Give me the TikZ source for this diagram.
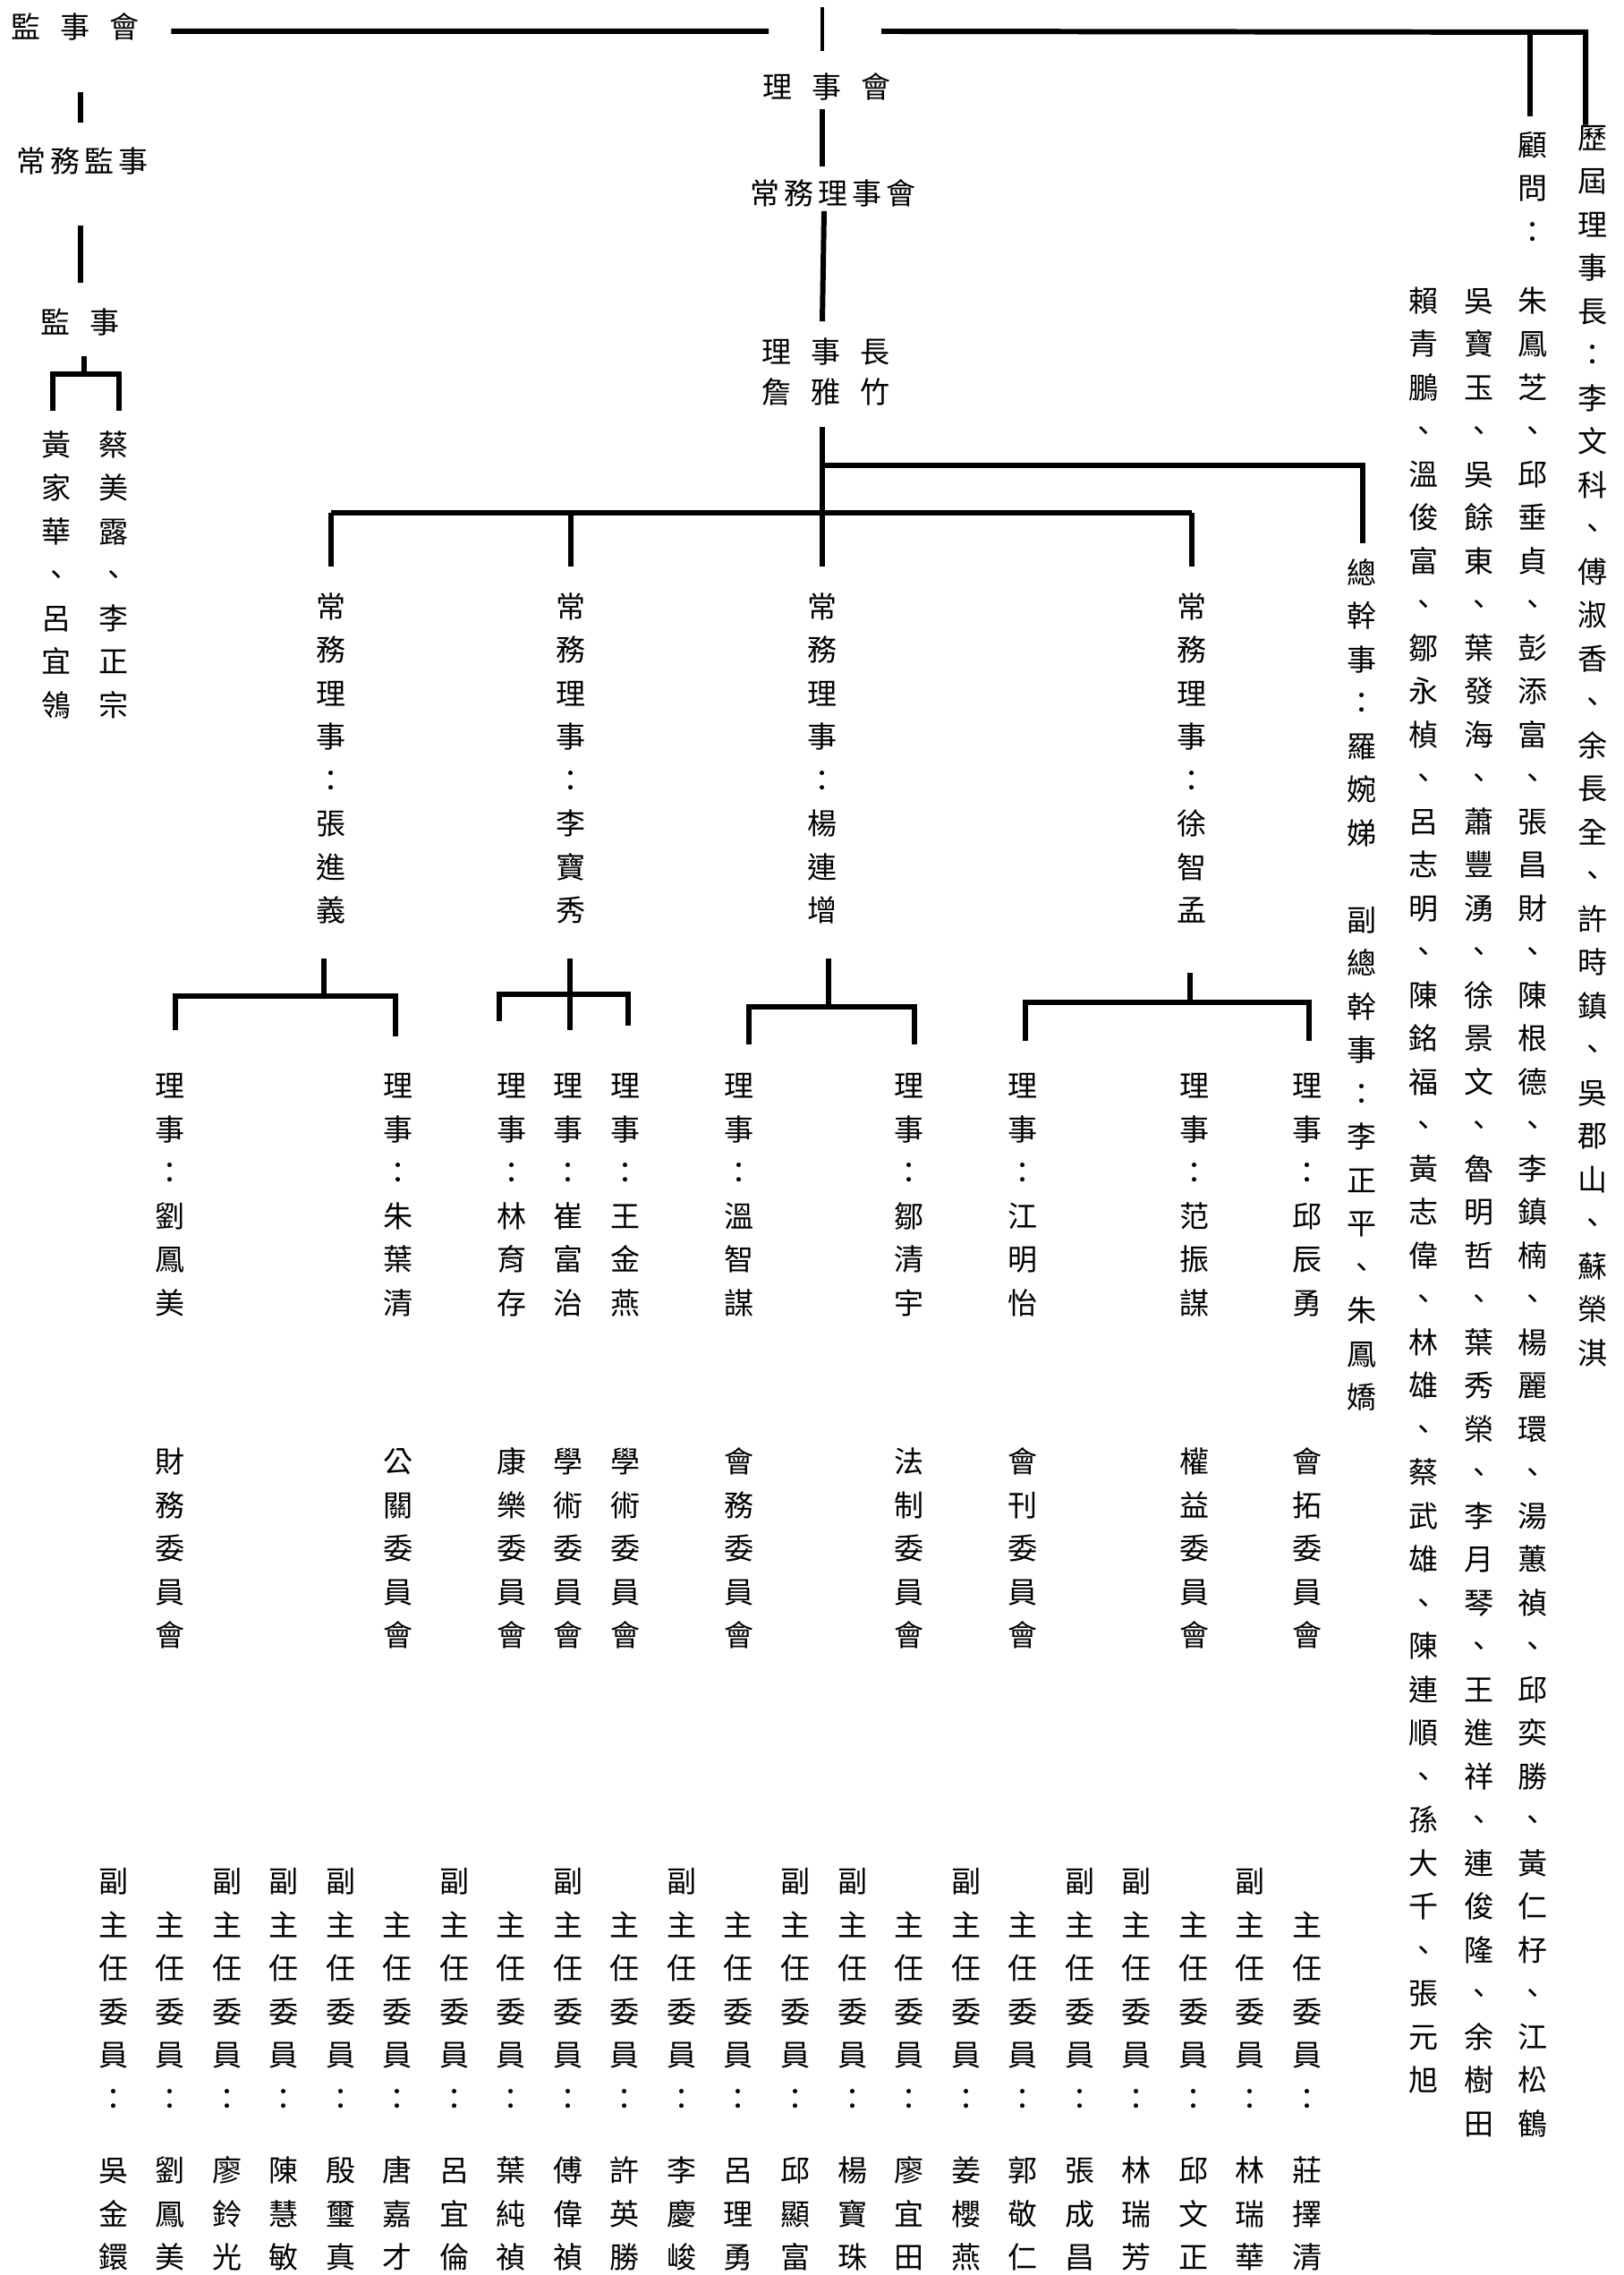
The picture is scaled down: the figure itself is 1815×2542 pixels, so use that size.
\documentclass[tikz,border=0pt]{standalone}
\usepackage{fontspec}
\newfontfamily\cjk{Noto Sans CJK TC}
\usetikzlibrary{calc}
\newlength\vpitch
\setlength\vpitch{4.85mm}
\newcommand\hgap{\hspace{2.2mm}}
\newcommand\sgap{\hspace{0.5mm}}
% vertical text, one character per line (* = empty line)
\def\vloop#1{\ifx\relax#1\else\ifx*#1\hbox{}\else\hbox to 1em{\hss#1\hss}\fi\expandafter\vloop\fi}
\newcommand\vtxt[1]{\edef\vtmp{#1}\vtop{\baselineskip=\vpitch\lineskiplimit=-\maxdimen\expandafter\vloop\vtmp\relax}}
\tikzset{
	ht/.style={anchor=base, yshift=-1.25mm, inner sep=0pt, font=\cjk\fontsize{9.4pt}{11pt}\selectfont},
	vt/.style={ht},
	link/.style={line width=1.7pt},
	thinlink/.style={line width=1.2pt}
}

\begin{document}
\begin{tikzpicture}[x=0.1mm, y=-0.1mm]
	\useasboundingbox (0,0) rectangle (1815,2542);

	% supervisors
	\node[ht] (jsh) at (84,30) {監\hgap{}事\hgap{}會};
	\node[ht] (cwjs) at (92,180) {常\sgap{}務\sgap{}監\sgap{}事};
	\node[ht] (js) at (90,360) {監\hgap{}事};
	\node[vt] (jsA) at (63,497) {\vtxt{黃家華、呂宜鴒}};
	\node[vt] (jsB) at (127,497) {\vtxt{蔡美露、李正宗}};

	% board
	\node[ht] (lsh) at (924,97) {理\hgap{}事\hgap{}會};
	\node[ht] (cwlsh) at (931,216) {常\sgap{}務\sgap{}理\sgap{}事\sgap{}會};
	\node[ht] (lsz) at (923,393) {理\hgap{}事\hgap{}長};
	\node[ht] (zyz) at (923,438) {詹\hgap{}雅\hgap{}竹};

	\node[vt] (cw1) at (370,678) {\vtxt{常務理事：張進義}};
	\node[vt] (cw2) at (638,678) {\vtxt{常務理事：李寶秀}};
	\node[vt] (cw3) at (919,678) {\vtxt{常務理事：楊連增}};
	\node[vt] (cw4) at (1332,678) {\vtxt{常務理事：徐智孟}};

	\foreach \i/\x/\nm/\cm in {1/190/劉鳳美/財務, 2/445/朱葉清/公關, 3/572/林育存/康樂, 4/635/崔富治/學術, 5/699/王金燕/學術, 6/826/溫智謀/會務, 7/1016/鄒清宇/法制, 8/1143/江明怡/會刊, 9/1335/范振謀/權益, 10/1461/邱辰勇/會拓} {
		\node[vt] (d\i) at (\x,1213) {\vtxt{理事：\nm}};
		\node[vt] (k\i) at (\x,1633) {\vtxt{\cm 委員會}};
	}

	\foreach \i/\fu/\nm in {1/副/吳金鐶, 2/*/劉鳳美, 3/副/廖鈴光, 4/副/陳慧敏, 5/副/殷璽真, 6/*/唐嘉才, 7/副/呂宜倫, 8/*/葉純禎, 9/副/傅偉禎, 10/*/許英勝, 11/副/李慶峻, 12/*/呂理勇, 13/副/邱顯富, 14/副/楊寶珠, 15/*/廖宜田, 16/副/姜櫻燕, 17/*/郭敬仁, 18/副/張成昌, 19/副/林瑞芳, 20/*/邱文正, 21/副/林瑞華, 22/*/莊擇清} {
		\pgfmathsetmacro\bx{127+63.5*(\i-1)}
		\node[vt] (t\i) at (\bx,2102) {\vtxt{\fu 主任委員：}};
		\node[vt] (n\i) at (\bx,2425) {\vtxt{\nm}};
	}

	% right side
	\node[vt] (lj) at (1780,154) {\vtxt{歷屆理事長：李文科、傅淑香、余長全、許時鎮、吳郡山、蘇榮淇}};
	\node[vt] (gw) at (1713,162) {\vtxt{顧問：}};
	\node[vt] (gwA) at (1713,336) {\vtxt{朱鳳芝、邱垂貞、彭添富、張昌財、陳根德、李鎮楠、楊麗環、湯蕙禎、邱奕勝、黃仁杍、江松鶴}};
	\node[vt] (gwB) at (1653,336) {\vtxt{吳寶玉、吳餘東、葉發海、蕭豐湧、徐景文、魯明哲、葉秀榮、李月琴、王進祥、連俊隆、余樹田}};
	\node[vt] (gwC) at (1591,336) {\vtxt{賴青鵬、溫俊富、鄒永楨、呂志明、陳銘福、黃志偉、林雄、蔡武雄、陳連順、孫大千、張元旭}};
	\node[vt] (zgs) at (1522,640) {\vtxt{總幹事：羅婉娣*副總幹事：李正平、朱鳳嬌}};

	% top bar
	\coordinate (top) at (919,35);
	\coordinate (rend) at (1772,36);
	\draw[link] ($(jsh.east)+(35,5)$) -- ($(top)+(-60,0)$);
	\draw[thinlink] ($(top)+(0,-27)$) -- ($(top)+(0,22)$);
	\draw[link] ($(top)+(66,0)$) -- (rend) -- (rend |- lj.north);
	\draw[link] ($(gw.north |- rend)+(-3,0)$) -- ($(gw.north)+(-3,-17)$);

	% supervisors tree
	\coordinate (b0) at (94,418);
	\draw[link] ($(jsh.south)+(6,57)$) -- ($(cwjs.north)+(-2,-27)$);
	\draw[link] ($(cwjs.south)+(-2,56)$) -- ($(js.north)+(0,-28)$);
	\draw[link] ($(js.south)+(4,22)$) -- (b0);
	\draw[link] ($(jsA.north)+(-4,-22)$) |- (b0) -| ($(jsB.north)+(6,-22)$);

	% board spine
	\coordinate (bus) at (919,573);
	\draw[link] ($(lsh.south)+(-5,9)$) -- ($(cwlsh.north)+(-12,-14)$);
	\draw[link] ($(cwlsh.south)+(-10,4)$) -- ($(lsz.north)+(-4,-18)$);
	\draw[link] ($(zyz.south)+(-4,23)$) -- ($(cw3.north)+(0,-29)$);
	\draw[link] ($(bus)+(0,-53)$) -| ($(zgs.north)+(1,-17)$);
	\draw[link] (cw1.north |- bus) -- (cw4.north |- bus);
	\foreach \c in {cw1,cw2,cw4}
		\draw[link] (\c.north |- bus) -- ($(\c.north)+(0,-29)$);

	% executive brackets
	\coordinate (b1) at (362,1113);
	\coordinate (b2) at (637,1111);
	\coordinate (b3) at (926,1125);
	\coordinate (b4) at (1330,1120);
	\draw[link] ($(cw1.south)+(-8,38)$) -- (b1);
	\draw[link] ($(d1.north)+(6,-48)$) |- (b1) -| ($(d2.north)+(-3,-41)$);
	\draw[link] ($(cw2.south)+(-1,38)$) -- ($(d4.north)+(2,-48)$);
	\draw[link] ($(d3.north)+(-14,-58)$) |- (b2) -| ($(d5.north)+(3,-53)$);
	\draw[link] ($(cw3.south)+(7,38)$) -- (b3);
	\draw[link] ($(d6.north)+(11,-32)$) |- (b3) -| ($(d7.north)+(6,-32)$);
	\draw[link] ($(cw4.south)+(-2,55)$) -- (b4);
	\draw[link] ($(d8.north)+(3,-36)$) |- (b4) -| ($(d10.north)+(2,-36)$);
\end{tikzpicture}
\end{document}
